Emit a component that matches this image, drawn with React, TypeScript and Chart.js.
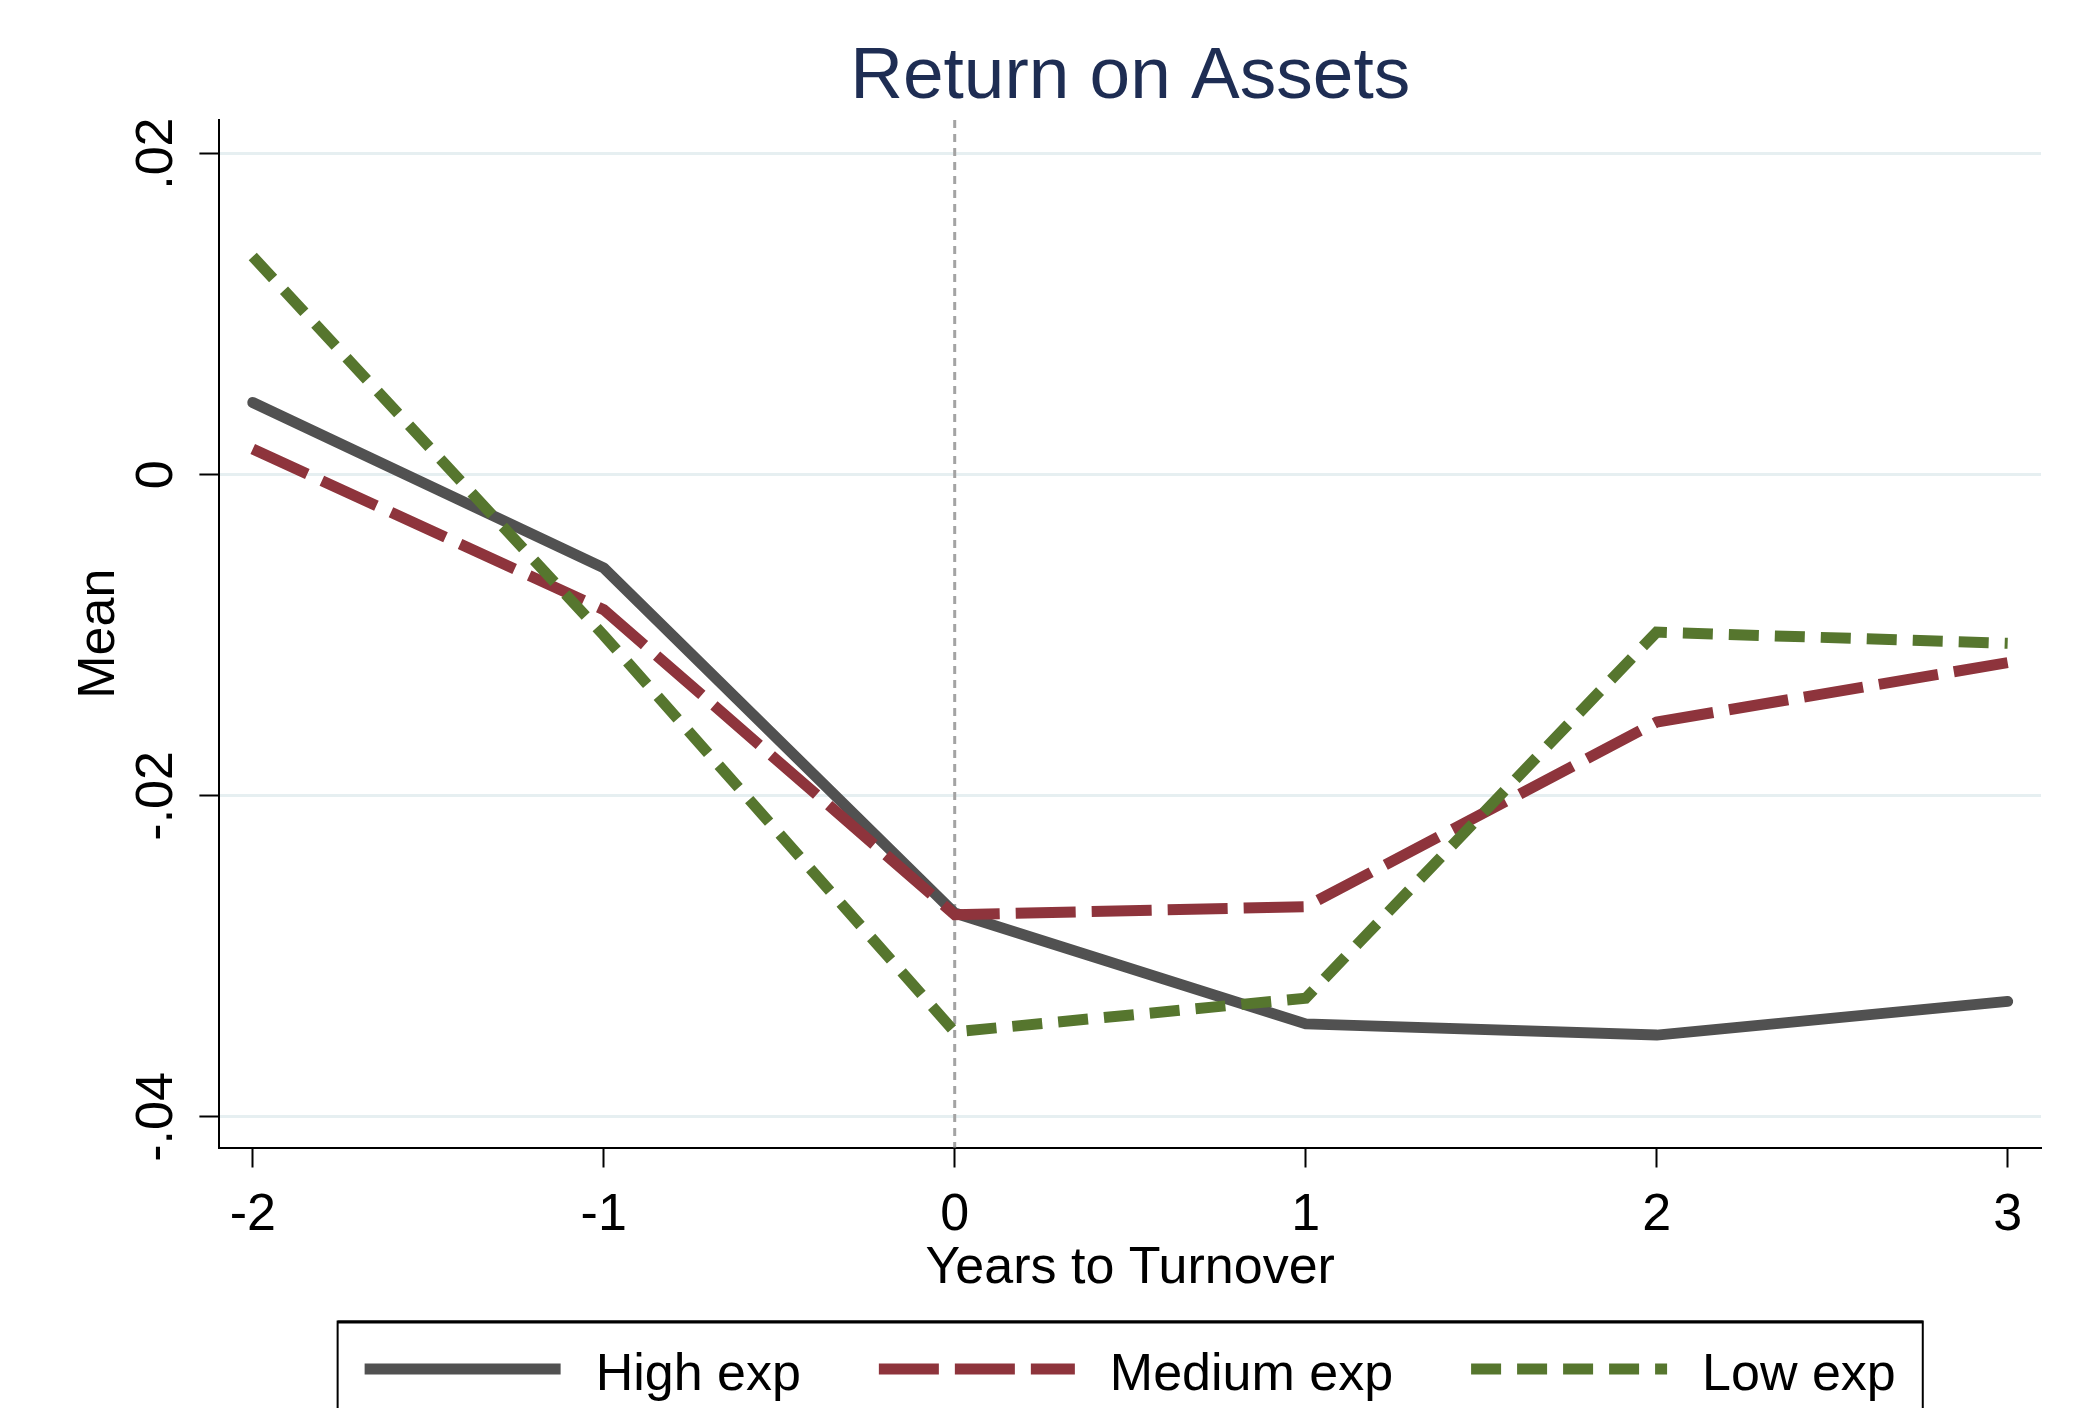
import React, { useEffect, useRef } from "react";
import { Chart, registerables } from "chart.js";

Chart.register(...registerables);

// ---- Data ----
const YEARS = [-2, -1, 0, 1, 2, 3];
const HIGH_EXP = [0.0045, -0.0058, -0.0273, -0.0342, -0.0349, -0.0328];
const MEDIUM_EXP = [0.0016, -0.0084, -0.0274, -0.0269, -0.0154, -0.0117];
const LOW_EXP = [0.0136, -0.01, -0.0347, -0.0326, -0.0098, -0.0105];
const SERIES_NAMES = ["High exp", "Medium exp", "Low exp"];
const X_TICKS = [-2, -1, 0, 1, 2, 3];
const Y_TICKS = [-0.04, -0.02, 0, 0.02];
const TURNOVER_YEAR = 0;
const TITLE = "Return on Assets";
const X_TITLE = "Years to Turnover";
const Y_TITLE = "Mean";

const FONT = "'Liberation Sans', Arial, Helvetica, sans-serif";
const COLORS = ["#515151", "#8E343C", "#56762E"];
const DASHES: number[][] = [[], [60, 16], [30, 16]];

function fmtY(v: number): string {
  if (Math.abs(v) < 1e-12) return "0";
  const s = Math.abs(v).toFixed(2).replace(/^0/, "");
  return (v < 0 ? "-" : "") + s;
}

export default function App() {
  const ref = useRef<HTMLCanvasElement>(null);

  useEffect(() => {
    document.body.style.margin = "0";
    const canvas = ref.current!;
    const seriesVals = [HIGH_EXP, MEDIUM_EXP, LOW_EXP];
    const datasets: any[] = seriesVals.map((vals, i) => ({
      label: SERIES_NAMES[i],
      data: YEARS.map((x, j) => ({ x, y: vals[j] })),
      borderColor: COLORS[i],
      backgroundColor: COLORS[i],
      borderWidth: 11,
      borderDash: DASHES[i],
      borderCapStyle: i === 0 ? "round" : "butt",
      borderJoinStyle: i === 0 ? "round" : "miter",
      pointRadius: 0,
      tension: 0,
      fill: false,
      order: 3 - i,
    }));

    const vline = {
      id: "vline",
      beforeDatasetsDraw(chart: any) {
        const { ctx, chartArea, scales } = chart;
        const x = scales.x.getPixelForValue(TURNOVER_YEAR);
        ctx.save();
        ctx.strokeStyle = "#A3A3A3";
        ctx.lineWidth = 3;
        ctx.setLineDash([8, 6]);
        ctx.beginPath();
        ctx.moveTo(x, chartArea.top);
        ctx.lineTo(x, chartArea.bottom);
        ctx.stroke();
        ctx.restore();
      },
    };

    const yLabels = {
      id: "yLabels",
      afterDraw(chart: any) {
        const s = chart.scales.y;
        const ctx = chart.ctx;
        ctx.save();
        ctx.font = `52px ${FONT}`;
        ctx.fillStyle = "#000";
        ctx.textAlign = "center";
        ctx.textBaseline = "middle";
        const cx = s.right - 20 - 8 - 34;
        s.ticks.forEach((t: any) => {
          const y = s.getPixelForValue(t.value);
          ctx.save();
          ctx.translate(cx, y);
          ctx.rotate(-Math.PI / 2);
          ctx.fillText(fmtY(t.value), 0, 0);
          ctx.restore();
        });
        ctx.restore();
      },
    };

    const stataLegend = {
      id: "stataLegend",
      afterDraw(chart: any) {
        const ctx = chart.ctx;
        const ca = chart.chartArea;
        ctx.save();
        ctx.font = `52px ${FONT}`;
        const sample = 196;
        const gapText = 35;
        const gapItem = 78;
        const widths = datasets.map((d) => ctx.measureText(d.label).width);
        const total =
          widths.reduce((a, w) => a + sample + gapText + w, 0) +
          gapItem * (datasets.length - 1);
        const cx = (ca.left + ca.right) / 2;
        const boxW = total + 54;
        const boxLeft = cx - boxW / 2;
        const boxTop = ca.bottom + 174;
        ctx.strokeStyle = "#000";
        ctx.lineWidth = 2;
        ctx.strokeRect(boxLeft, boxTop, boxW, 200);
        ctx.lineWidth = 3;
        ctx.beginPath();
        ctx.moveTo(boxLeft, boxTop + 0.5);
        ctx.lineTo(boxLeft + boxW, boxTop + 0.5);
        ctx.stroke();
        let x = cx - total / 2;
        const ly = boxTop + 47.5;
        datasets.forEach((d, i) => {
          ctx.strokeStyle = d.borderColor;
          ctx.lineWidth = 11;
          ctx.lineCap = "butt";
          ctx.setLineDash(d.borderDash);
          ctx.beginPath();
          ctx.moveTo(x, ly);
          ctx.lineTo(x + sample, ly);
          ctx.stroke();
          ctx.setLineDash([]);
          ctx.fillStyle = "#000";
          ctx.textAlign = "left";
          ctx.textBaseline = "middle";
          ctx.fillText(d.label, x + sample + gapText, ly + 7);
          x += sample + gapText + widths[i] + gapItem;
        });
        ctx.restore();
      },
    };

    const chart = new Chart(canvas, {
      type: "line",
      data: { datasets },
      options: {
        animation: false,
        responsive: false,
        devicePixelRatio: 1,
        layout: { padding: { left: 0, right: 44, top: 0, bottom: 100.5 } },
        plugins: {
          legend: { display: false },
          tooltip: { enabled: false },
          title: {
            display: true,
            text: TITLE,
            fullSize: false,
            color: "#1E2D53",
            font: { size: 73, family: FONT, weight: "normal", lineHeight: 1.15 },
            padding: { top: 36, bottom: 0 },
          },
        },
        scales: {
          x: {
            type: "linear",
            min: -2.095,
            max: 3.095,
            afterBuildTicks: (s: any) => {
              s.ticks = X_TICKS.map((v) => ({ value: v }));
            },
            afterFit: (s: any) => {
              s.height = 160;
            },
            grid: {
              drawOnChartArea: false,
              drawTicks: true,
              tickLength: 20,
              tickColor: "#000",
              tickWidth: 2,
            },
            border: { display: true, color: "#000", width: 2 },
            ticks: {
              font: { size: 52, family: FONT },
              color: "#000",
              padding: 17,
              maxRotation: 0,
              autoSkip: false,
            },
            title: {
              display: true,
              text: X_TITLE,
              font: { size: 52, family: FONT },
              color: "#000",
              padding: { top: 0, bottom: 8 },
            },
          },
          y: {
            type: "linear",
            min: -0.0419,
            max: 0.0221,
            afterBuildTicks: (s: any) => {
              s.ticks = Y_TICKS.map((v) => ({ value: v }));
            },
            afterFit: (s: any) => {
              s.width = 219.4;
            },
            grid: {
              color: "#E6EFF1",
              lineWidth: 3,
              drawTicks: true,
              tickLength: 20,
              tickColor: "#000",
              tickWidth: 2,
            },
            border: { display: true, color: "#000", width: 2 },
            ticks: { display: false },
            title: {
              display: true,
              text: Y_TITLE,
              font: { size: 52, family: FONT },
              color: "#000",
              padding: { top: 68, bottom: 0 },
            },
          },
        },
      } as any,
      plugins: [vline, yLabels, stataLegend],
    });
    return () => chart.destroy();
  }, []);

  return (
    <div style={{ width: 2085, height: 1408, background: "#fff" }}>
      <canvas ref={ref} width={2085} height={1408} style={{ display: "block" }} />
    </div>
  );
}
